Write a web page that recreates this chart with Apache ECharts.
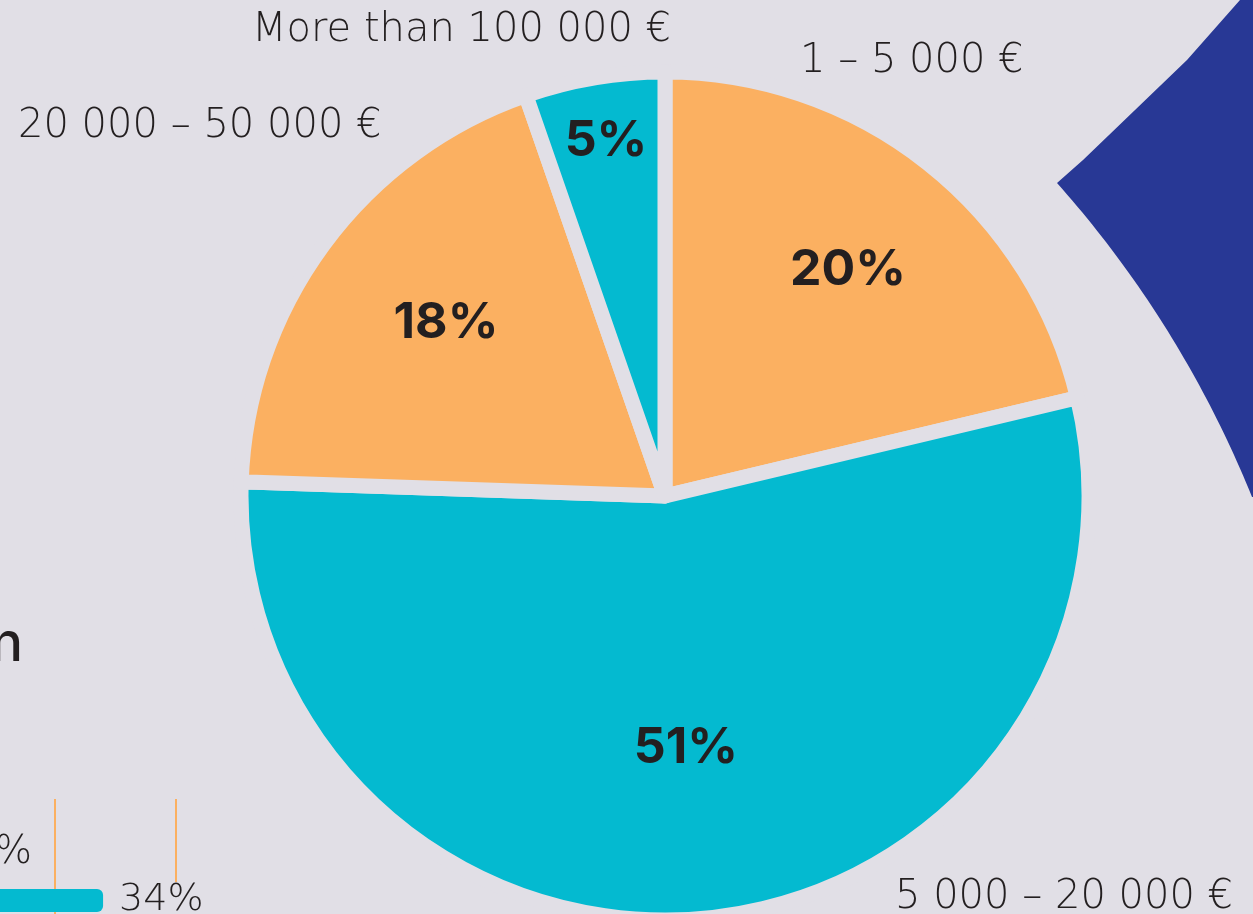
<!DOCTYPE html>
<html>
<head>
<meta charset="utf-8">
<script src="https://cdn.jsdelivr.net/npm/echarts@6/dist/echarts.min.js"></script>
<style>
html,body{margin:0;padding:0;background:#e1dfe6;}
#c{width:1253px;height:914px;}
</style>
</head>
<body>
<div id="c"></div>
<script>
// ---- data ----
var categories = ['1 – 5 000 €', '5 000 – 20 000 €', '20 000 – 50 000 €', 'More than 100 000 €'];
var shares = [20, 51, 18, 5];
var sliceColors = ['#fbb061', '#04bad0', '#fbb061', '#04bad0'];
var barCategories = ['row'];
var barValues = [34];

// ---- layout (positions / styles only) ----
var BG = '#e1dfe6';
var TXT = '#231f20';
var LIGHT = 'DejaVu Sans';
var pctPos = [[848, 270], [686, 748], [446, 323], [606, 141]];
var namePos = [[800, 62], [895, 898], [18, 127], [252, 31]];

// decorative shape (fragment of a neighbouring graphic): outline made of an arc and a line
function blueShape() {
  var cx = 248, cy = 903, r = 1083;
  var a0 = Math.atan2(497 - cy, 1252 - cx), a1 = Math.atan2(183 - cy, 1057 - cx);
  var pts = [[1253, 0], [1253, 497]];
  var n = 48;
  for (var i = 0; i <= n; i++) {
    var a = a0 + (a1 - a0) * i / n;
    pts.push([cx + r * Math.cos(a), cy + r * Math.sin(a)]);
  }
  pts.push([1083, 160], [1187, 60], [1240, 0]);
  return pts;
}

var chart = echarts.init(document.getElementById('c'), null, {renderer: 'canvas'});

var pieData = categories.map(function (n, i) {
  return {name: n, value: shares[i], itemStyle: {color: sliceColors[i]}};
});
var labelData = categories.map(function (n, i) {
  return {name: n, value: shares[i]};
});

var option = {
  backgroundColor: BG,
  animation: false,
  grid: {left: 0, width: 589, top: 889, height: 23, containLabel: false},
  xAxis: {type: 'value', min: 20, max: 100, show: false},
  yAxis: {type: 'category', data: barCategories, show: false},
  graphic: [
    {type: 'polygon', z: 0, silent: true, shape: {points: blueShape()}, style: {fill: '#283895'}},
    {type: 'line', z: 0, silent: true, shape: {x1: 55, y1: 799, x2: 55, y2: 914}, style: {stroke: '#fbb061', lineWidth: 2}},
    {type: 'line', z: 0, silent: true, shape: {x1: 176, y1: 799, x2: 176, y2: 882}, style: {stroke: '#fbb061', lineWidth: 2}},
    {type: 'text', z: 5, silent: true, x: 23, y: 645,
      style: {text: 'n', fill: TXT, font: '500 54px Inter', textAlign: 'right', textVerticalAlign: 'middle'}},
    {type: 'text', z: 5, silent: true, x: 32, y: 853,
      style: {text: '%', fill: TXT, font: '200 39px "DejaVu Sans"', textAlign: 'right', textVerticalAlign: 'middle'}}
  ],
  series: [
    {
      type: 'bar',
      data: barValues,
      barWidth: '100%',
      itemStyle: {color: '#04bad0', borderRadius: [0, 6, 6, 0]},
      label: {show: true, position: 'right', distance: 16, formatter: '{c}%',
        fontFamily: LIGHT, fontWeight: 200, fontSize: 38, color: TXT},
      z: 3
    },
    {
      type: 'pie',
      center: [665, 496],
      radius: [0, 424],
      startAngle: 90,
      clockwise: true,
      avoidLabelOverlap: false,
      data: pieData,
      itemStyle: {borderColor: BG, borderWidth: 15},
      label: {show: true, position: 'inside', formatter: '{c}%',
        fontFamily: 'Inter', fontWeight: 700, fontSize: 50, color: TXT},
      labelLine: {show: false},
      labelLayout: function (p) {
        var q = pctPos[p.dataIndex];
        return {x: q[0], y: q[1], align: 'center', verticalAlign: 'middle'};
      },
      emphasis: {disabled: true},
      z: 4
    },
    {
      type: 'pie',
      center: [665, 496],
      radius: [0, 424],
      startAngle: 90,
      clockwise: true,
      silent: true,
      avoidLabelOverlap: false,
      data: labelData,
      itemStyle: {color: 'rgba(0,0,0,0)', borderWidth: 0},
      label: {show: true, position: 'outside', formatter: '{b}',
        fontFamily: LIGHT, fontWeight: 200, fontSize: 40, color: TXT},
      labelLine: {show: false},
      labelLayout: function (p) {
        var q = namePos[p.dataIndex];
        return {x: q[0], y: q[1], align: 'left', verticalAlign: 'middle'};
      },
      emphasis: {disabled: true},
      z: 5
    }
  ]
};
chart.setOption(option);
</script>
</body>
</html>
